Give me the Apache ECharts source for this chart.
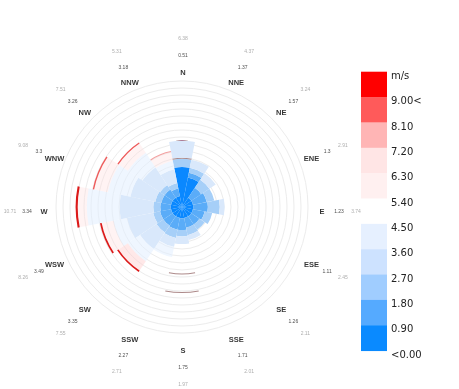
<!DOCTYPE html>
<html><head><meta charset="utf-8">
<script src="https://cdn.jsdelivr.net/npm/echarts@6/dist/echarts.min.js"></script>
<style>html,body{margin:0;padding:0;background:#fff}#c{width:459px;height:389px}</style>
</head><body><div id="c"></div>
<script>
// ---- data ----
const directions = ['N','NNE','NE','ENE','E','ESE','SE','SSE','S','SSW','SW','WSW','W','WNW','NW','NNW'];
const meanSpeed = ['0.51','1.37','1.57','1.3','1.23','1.11','1.26','1.71','1.75','2.27','3.35','3.49','3.34','3.3','3.26','3.18'];
const maxSpeed  = ['6.38','4.37','3.24','2.91','3.74','2.45','2.11','2.01','1.97','2.71','7.55','8.26','10.71','9.08','7.51','5.31'];
const legendLabels = ['m/s','9.00<','8.10','7.20','6.30','5.40','4.50','3.60','2.70','1.80','0.90','<0.00'];
// class colours: 0 gap, 1..5 blue (<0.9 .. 3.6-4.5), 6..10 red (5.4-6.3 .. 9<), 11 muted line
const classColors = ['rgba(0,0,0,0)','#0a88ff','#5aacf8','#a6cff8','#d9e8fb','rgba(226,238,255,0.55)',
                     'rgba(255,222,222,0.35)','rgba(255,205,205,0.45)','#f4a0a0','#ef5a5a','#dc1a1a','#ad8a8a'];
const legendColors = ['#ff0000','#ff5a5a','#ffb5b5','#ffe5e5','#fff0f0','#ffffff',
                      '#e6f0ff','#cde2ff','#a0cdff','#55aaff','#0a8aff'];
// stacked segments per direction, from centre outwards: [class, frequency %]
const segN   = [[1,5.7],[3,1.2],[11,0.15],[4,2.4]];
const segNNE = [[1,4.3],[2,0.7],[3,0.7],[4,1.2]];
const segNE  = [[1,1.6],[2,1.7],[3,1.4],[4,1.1]];
const segENE = [[1,1.6],[2,2.0],[3,1.1]];
const segE   = [[1,1.6],[2,2.1],[3,1.7],[4,0.7]];
const segESE = [[1,1.6],[2,1.7],[3,1.1]];
const segSE  = [[1,1.6],[2,1.4],[3,0.9]];
const segSSE = [[1,1.6],[2,1.4],[3,1.1],[4,0.7]];
const segS   = [[1,1.6],[2,1.7],[3,0.9],[4,1.1],[0,4.2],[11,0.15],[0,2.5],[11,0.15]];
const segSSW = [[1,1.6],[2,1.7],[3,1.2],[4,1.3],[5,1.5]];
const segSW  = [[1,1.6],[2,1.6],[3,1.2],[4,2.8],[5,2.1],[7,1.6],[10,0.25]];
const segWSW = [[1,1.6],[2,1.6],[3,1.0],[4,3.8],[5,2.0],[6,1.7],[10,0.25]];
const segW   = [[1,1.6],[2,1.5],[3,1.0],[4,4.8],[5,4.7],[6,1.3],[10,0.3]];
const segWNW = [[1,1.6],[2,1.4],[3,0.9],[4,3.6],[5,3.3],[6,2.0],[9,0.2]];
const segNW  = [[1,1.6],[2,1.4],[3,0.8],[4,3.0],[5,2.5],[6,1.6],[9,0.2]];
const segNNW = [[1,1.6],[2,1.1],[3,0.8],[4,2.0],[5,1.2],[6,1.3],[8,0.15]];
const segments = [segN,segNNE,segNE,segENE,segE,segESE,segSE,segSSE,segS,segSSW,segSW,segWSW,segW,segWNW,segNW,segNNW];

// ---- chart ----
const chart = echarts.init(document.getElementById('c'), null, {renderer:'canvas'});
const maxLayers = Math.max(...segments.map(s => s.length));
const series = [];
for (let j = 0; j < maxLayers; j++) {
  series.push({
    type:'bar', coordinateSystem:'polar', polarIndex:0, stack:'rose',
    barCategoryGap:'0%', silent:true,
    data: segments.map(s => s[j] ? {value:s[j][1], itemStyle:{color:classColors[s[j][0]]}} : {value:0})
  });
}
function labelSeries(r, texts, style) {
  return {
    type:'scatter', coordinateSystem:'polar', polarIndex:1, symbolSize:1, silent:true,
    itemStyle:{color:'rgba(0,0,0,0)'},
    data: directions.map((d,i) => [r, d]),
    label: Object.assign({show:true, position:'inside', formatter: p => texts[p.dataIndex]}, style)
  };
}
series.push(labelSeries(139, directions, {fontSize:7.5, fontWeight:'bold', color:'#000', fontFamily:'Liberation Sans'}));
series.push(labelSeries(156, meanSpeed, {fontSize:5, color:'#222', fontFamily:'Liberation Sans'}));
series.push(labelSeries(173, maxSpeed, {fontSize:5, color:'#999', fontFamily:'Liberation Sans'}));

const graphics = [];
const legTop = 71.7, legStep = 25.36;
legendColors.forEach((c,i) => {
  graphics.push({type:'rect', shape:{x:361, y:legTop + i*legStep, width:26, height:legStep + 0.4}, style:{fill:c}, silent:true});
});
legendLabels.forEach((t,i) => {
  graphics.push({type:'text', x:391, y:legTop + i*legStep + 4.5,
    style:{text:t, fill:'#222', font:'10px "DejaVu Sans"', textAlign:'left', textVerticalAlign:'middle'}, silent:true});
});

chart.setOption({
  animation:false,
  backgroundColor:'#fff',
  polar:[{center:[182,207], radius:126}, {center:[183,211.7], radius:180}],
  angleAxis:[
    {polarIndex:0, type:'category', data:directions, startAngle:101.25, boundaryGap:true,
     axisLine:{show:false}, axisTick:{show:false}, axisLabel:{show:false}, splitLine:{show:false}},
    {polarIndex:1, type:'category', data:directions, startAngle:101.25, boundaryGap:true,
     axisLine:{show:false}, axisTick:{show:false}, axisLabel:{show:false}, splitLine:{show:false}}
  ],
  radiusAxis:[
    {polarIndex:0, type:'value', min:0, max:18, interval:1,
     axisLine:{show:false}, axisTick:{show:false}, axisLabel:{show:false},
     splitLine:{show:true, lineStyle:{color:'#ececec', width:1}}},
    {polarIndex:1, type:'value', min:0, max:180,
     axisLine:{show:false}, axisTick:{show:false}, axisLabel:{show:false}, splitLine:{show:false}}
  ],
  series: series,
  graphic: graphics
});
</script></body></html>
